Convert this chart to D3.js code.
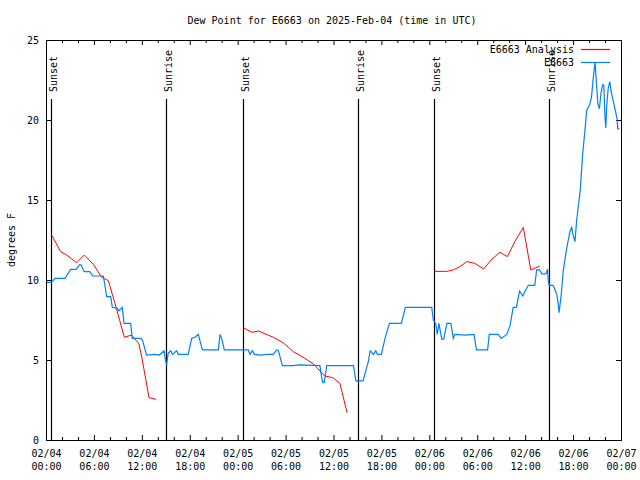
<!DOCTYPE html>
<html><head><meta charset="utf-8">
<script src="https://cdn.jsdelivr.net/npm/d3@7"></script>
<style>
body{margin:0;background:#fff;}
text{font-family:"DejaVu Sans Mono",monospace;font-size:10px;fill:#000;}
</style></head>
<body><svg id="c" width="640" height="480"></svg>
<script>
// Data: hours since 2025-02-04 00:00 UTC
const blueHours = [0,0.7,1.13,2.38,3.09,3.76,4.17,4.38,4.8,5.5,5.84,7.18,7.3,7.6,8.1,8.3,8.93,9.14,9.56,9.77,10.6,10.8,11.64,11.9,12.1,12.6,13.65,14.2,14.78,14.98,15.1,15.3,15.6,15.85,16.35,16.57,17.8,18.24,18.65,19.07,19.58,21.58,21.8,22.0,22.33,25.34,25.55,25.84,26.1,27.0,27.6,28.47,28.9,29.1,29.6,30.97,31.8,34.3,34.5,34.65,34.85,35.15,36.8,38.5,38.8,39.7,40.36,40.6,41.0,41.3,41.5,42.0,42.45,43.0,44.5,45.0,48.3,48.5,48.8,49.0,49.2,49.55,49.8,50.2,50.7,51.0,51.2,52.5,53.6,53.9,55.3,55.5,56.6,57.0,57.7,58.1,58.5,58.9,59.3,59.7,60.0,60.4,61.2,61.44,61.8,62.1,62.6,62.8,62.9,63.0,63.5,63.95,64.1,64.25,64.55,64.78,65.2,65.6,65.83,66.0,66.24,66.45,66.9,67.2,67.5,67.7,68.1,68.3,68.5,68.75,68.9,69.1,69.3,69.5,69.7,69.85,70.0,70.1,70.2,70.4,70.6,70.8,71.1,71.5,71.6,71.8];
const blueValues = [9.85,9.85,10.1,10.1,10.67,10.67,10.94,10.94,10.52,10.52,10.25,10.25,9.9,8.96,8.96,8.29,8.23,8.08,8.29,7.29,7.29,6.35,6.35,6.35,6.2,5.31,5.35,5.31,5.58,4.9,4.69,5.42,5.58,5.35,5.58,5.35,5.35,6.35,6.42,6.6,5.63,5.63,6.6,6.35,5.63,5.63,5.35,5.58,5.35,5.31,5.35,5.35,5.63,5.58,4.65,4.65,4.69,4.65,3.96,3.6,3.6,4.65,4.65,4.65,3.69,3.69,4.9,5.58,5.35,5.58,5.35,5.35,6.35,7.29,7.29,8.29,8.29,7.5,7.29,6.6,7.29,6.31,6.31,7.29,7.29,6.35,6.6,6.56,6.6,5.63,5.63,6.6,6.6,6.35,6.6,7.13,8.29,8.29,9.31,9.0,9.31,9.67,9.67,10.63,10.63,10.38,10.38,10.67,9.96,9.67,9.67,9.13,8.65,7.96,9.27,10.63,11.98,13.02,13.29,12.8,12.4,13.75,15.6,17.9,19.4,20.6,21.0,21.4,22.5,23.6,22.5,21.04,20.7,21.7,22.2,22.2,20.1,19.5,20.8,22.0,22.4,21.7,21.04,20.1,19.44,19.44];
const redHours = [0.71,1.84,2.59,3.84,4.8,5.93,6.97,7.8,8.64,9.81,10.73,11.64,12.06,12.9,13.77,null,24.7,25.75,26.6,28.47,29.7,30.97,32.2,33.5,34.9,35.9,36.8,37.7,null,48.67,50.2,51.0,51.8,52.7,53.7,54.8,55.8,56.85,57.77,58.7,59.77,60.7,61.2,61.8];
const redValues = [12.8,11.77,11.56,11.08,11.56,10.98,10.17,9.96,8.54,6.42,6.56,6.0,5.0,2.65,2.54,null,7.02,6.73,6.81,6.42,6.08,5.52,5.17,4.75,4.0,3.9,3.54,1.71,null,10.54,10.54,10.63,10.83,11.15,11.04,10.69,11.29,11.73,11.46,12.4,13.29,10.63,10.73,10.88];
const sunHours = [0.71,15.06,24.7,39.1,48.6,63.0];
const sunLabels = ["Sunset","Sunrise","Sunset","Sunrise","Sunset","Sunrise"];
const seriesNames = ["E6663 Analysis","E6663"];
const seriesColors = ["#ff0000","#0080ff"];
const yTicks = [0,5,10,15,20,25];
const title = "Dew Point for E6663 on 2025-Feb-04 (time in UTC)";
const yLabel = "degrees F";

const t0 = Date.UTC(2025,1,4);
const toDate = h => new Date(t0 + h*3600e3);

const L=46,R=621,T=40,B=440;
const svg = d3.select("#c");
const x = d3.scaleUtc().domain([toDate(0),toDate(72)]).range([L,R]);
const y = d3.scaleLinear().domain([0,25]).range([B,T]);

const majorT = d3.range(0,73,6).map(toDate);
const minorT = d3.range(0,73,2).filter(h=>h%6!==0).map(toDate);

function clean(g){g.select(".domain").remove();g.selectAll("line").attr("stroke","#000");}

const gb = svg.append("g").attr("transform",`translate(0,${B})`)
  .call(d3.axisBottom(x).tickValues(majorT).tickSizeInner(-5).tickSizeOuter(0).tickPadding(9).tickFormat(d3.utcFormat("%m/%d")));
clean(gb);
gb.selectAll(".tick text").each(function(d){
  const t=d3.select(this); t.text(null).attr("dy",null).attr("y",17);
  t.append("tspan").attr("x",0).text(d3.utcFormat("%m/%d")(d));
  t.append("tspan").attr("x",0).attr("dy",13).text(d3.utcFormat("%H:%M")(d));
});
gb.selectAll("text").attr("font-family",null).attr("font-size",null);
const gbm = svg.append("g").attr("transform",`translate(0,${B})`)
  .call(d3.axisBottom(x).tickValues(minorT).tickSizeInner(-3).tickSizeOuter(0).tickFormat(""));
clean(gbm);
const gt = svg.append("g").attr("transform",`translate(0,${T})`)
  .call(d3.axisTop(x).tickValues(majorT).tickSizeInner(-5).tickSizeOuter(0).tickFormat(""));
clean(gt);
const gtm = svg.append("g").attr("transform",`translate(0,${T})`)
  .call(d3.axisTop(x).tickValues(minorT).tickSizeInner(-3).tickSizeOuter(0).tickFormat(""));
clean(gtm);
const gl = svg.append("g").attr("transform",`translate(${L},0)`)
  .call(d3.axisLeft(y).tickValues(yTicks).tickSizeInner(-5).tickSizeOuter(0).tickPadding(7).tickFormat(d3.format("d")));
clean(gl);
gl.selectAll("text").attr("font-family",null).attr("font-size",null);
const gr = svg.append("g").attr("transform",`translate(${R},0)`)
  .call(d3.axisRight(y).tickValues(yTicks).tickSizeInner(-5).tickSizeOuter(0).tickFormat(""));
clean(gr);

sunHours.forEach((h,i)=>{
  const xx = Math.floor(x(toDate(h)))+0.5;
  svg.append("line").attr("x1",xx).attr("x2",xx).attr("y1",99).attr("y2",B).attr("stroke","#000").attr("stroke-width",1.2);
  svg.append("text").attr("transform",`translate(${xx+5},92) rotate(-90)`).attr("text-anchor","start").text(sunLabels[i]);
});

const line = d3.line().defined(d=>d[0]!==null && d[1]!==null).x(d=>x(toDate(d[0]))).y(d=>y(d[1]));
const redData = redHours.map((h,i)=>[h,redValues[i]]);
const blueData = blueHours.map((h,i)=>[h,blueValues[i]]);
svg.append("path").datum(redData).attr("d",line).attr("fill","none").attr("stroke",seriesColors[0]).attr("stroke-width",1);
svg.append("path").datum(blueData).attr("d",line).attr("fill","none").attr("stroke",seriesColors[1]).attr("stroke-width",1.2);

svg.append("rect").attr("x",L+0.5).attr("y",T+0.5).attr("width",R-L).attr("height",B-T).attr("fill","none").attr("stroke","#000");

seriesNames.forEach((n,i)=>{
  const yy = 49.5 + i*13;
  svg.append("text").attr("x",574).attr("y",yy+3.5).attr("text-anchor","end").text(n);
  svg.append("line").attr("x1",581).attr("x2",610).attr("y1",yy).attr("y2",yy).attr("stroke",seriesColors[i]).attr("stroke-width",1.2);
});

svg.append("text").attr("x",332).attr("y",24).attr("text-anchor","middle").text(title);
svg.append("text").attr("transform","translate(15,240) rotate(-90)").attr("text-anchor","middle").text(yLabel);
</script></body></html>
